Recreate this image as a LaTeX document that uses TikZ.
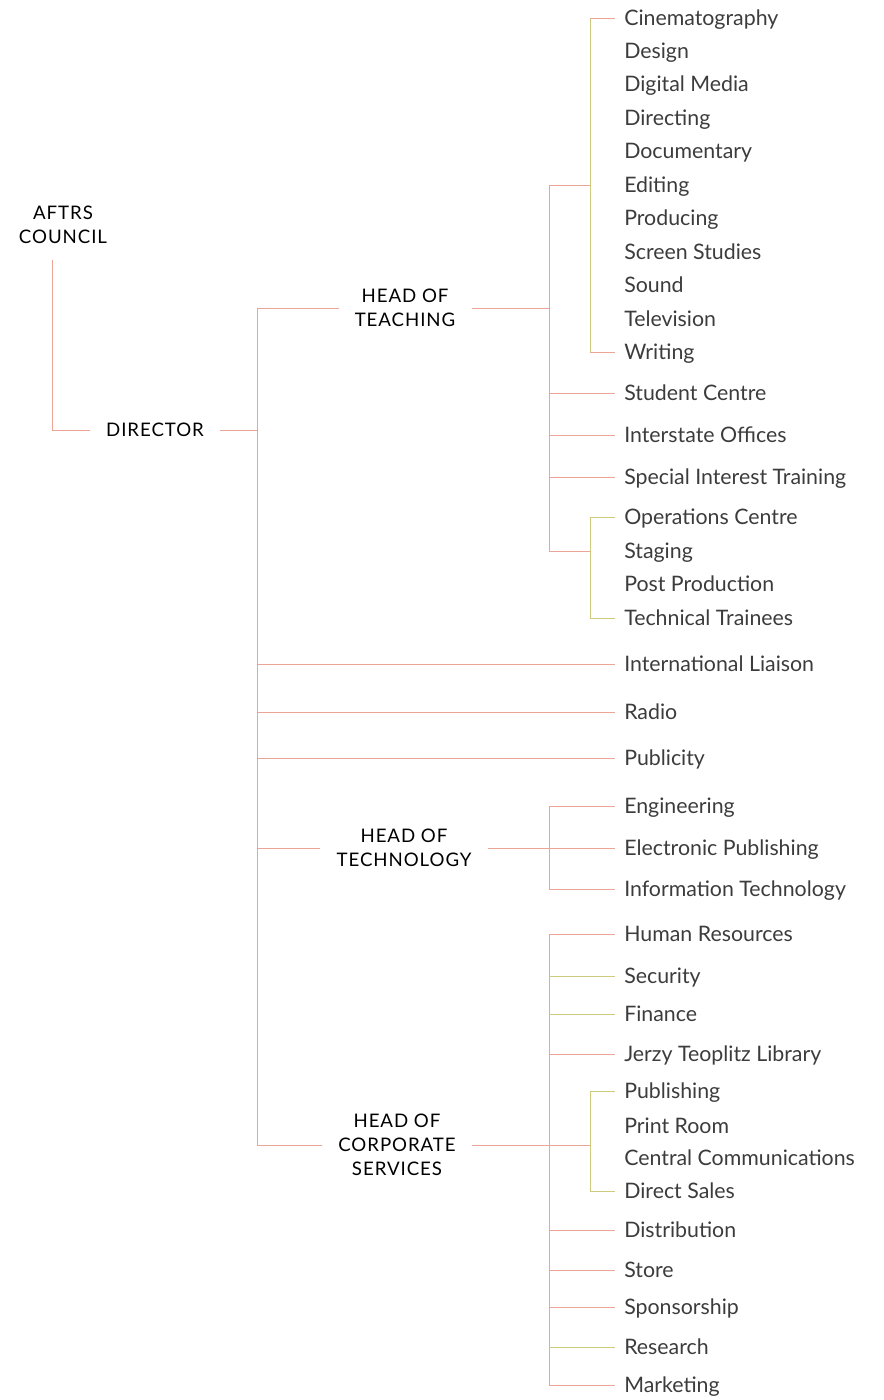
\documentclass[tikz,border=0pt]{standalone}
\usepackage{fontspec}
\setmainfont{Lato}
\newfontfamily\capsfont[LetterSpace=5]{Lato}
\usetikzlibrary{positioning}
\definecolor{salmon}{HTML}{EBA596}
\definecolor{olive}{HTML}{CDCC7E}
\definecolor{ink}{HTML}{3C3C3C}
\tikzset{leaf/.style={anchor=west, inner xsep=6.75pt, inner ysep=0pt, text height=11pt, text depth=0pt, text=ink, font=\fontsize{16}{18}\selectfont},
	head/.style={align=center, inner xsep=12pt, inner ysep=0pt, text=black, font=\capsfont\fontsize{14}{18}\selectfont},
	link/.style={draw=salmon, line width=0.6pt},
	sublink/.style={draw=olive, line width=0.6pt}}

\begin{document}
\begin{tikzpicture}[x=0.75pt, y=-0.75pt]
	\useasboundingbox (0,0) rectangle (884,1400);
	% heads
	\node[head] (Council) at (63,225) {AFTRS\\COUNCIL};
	\node[head] (Director) at (155,430) {DIRECTOR};
	\node[head] (Teaching) at (405,308) {HEAD OF\\TEACHING};
	\node[head] (Technology) at (404,848) {HEAD OF\\TECHNOLOGY};
	\node[head] (Corporate) at (397,1145) {HEAD OF\\CORPORATE\\SERVICES};
	\coordinate (CouncilFoot) at (52,260);
	\coordinate (Spine) at (257,0);
	\coordinate (Bar) at (549,0);
	\coordinate (SubBar) at (590,0);
	% teaching
	\node[leaf] (Cinematography) at (615,18) {Cinematography};
	\node[leaf] (Design) at (615,51) {Design};
	\node[leaf] (DigitalMedia) at (615,84) {Digital Media};
	\node[leaf] (Directing) at (615,118) {Directing};
	\node[leaf] (Documentary) at (615,151) {Documentary};
	\node[leaf] (Editing) at (615,185) {Editing};
	\node[leaf] (Producing) at (615,218) {Producing};
	\node[leaf] (ScreenStudies) at (615,252) {Screen Studies};
	\node[leaf] (Sound) at (615,285) {Sound};
	\node[leaf] (Television) at (615,319) {Television};
	\node[leaf] (Writing) at (615,352) {Writing};
	\node[leaf] (StudentCentre) at (615,393) {Student Centre};
	\node[leaf] (Interstate) at (615,435) {Interstate Offices};
	\node[leaf] (SpecialInterest) at (615,477) {Special Interest Training};
	\node[leaf] (Operations) at (615,517) {Operations Centre};
	\node[leaf] (Staging) at (615,551) {Staging};
	\node[leaf] (PostProduction) at (615,584) {Post Production};
	\node[leaf] (Trainees) at (615,618) {Technical Trainees};
	% director
	\node[leaf] (Liaison) at (615,664) {International Liaison};
	\node[leaf] (Radio) at (615,712) {Radio};
	\node[leaf] (Publicity) at (615,758) {Publicity};
	% technology
	\node[leaf] (Engineering) at (615,806) {Engineering};
	\node[leaf] (Electronic) at (615,848) {Electronic Publishing};
	\node[leaf] (InfoTech) at (615,889) {Information Technology};
	% corporate services
	\node[leaf] (HumanResources) at (615,934) {Human Resources};
	\node[leaf] (Security) at (615,976) {Security};
	\node[leaf] (Finance) at (615,1014) {Finance};
	\node[leaf] (Library) at (615,1054) {Jerzy Teoplitz Library};
	\node[leaf] (Publishing) at (615,1091) {Publishing};
	\node[leaf] (PrintRoom) at (615,1126) {Print Room};
	\node[leaf] (CentralComms) at (615,1158) {Central Communications};
	\node[leaf] (DirectSales) at (615,1191) {Direct Sales};
	\node[leaf] (Distribution) at (615,1230) {Distribution};
	\node[leaf] (Store) at (615,1270) {Store};
	\node[leaf] (Sponsorship) at (615,1307) {Sponsorship};
	\node[leaf] (Research) at (615,1347) {Research};
	\node[leaf] (Marketing) at (615,1385) {Marketing};
	% connectors
	\draw[link] (CouncilFoot) |- (Director.west);
	\draw[link] (Director.east) -- (Director.east -| Spine);
	\draw[link] (Teaching.west) -| (Spine |- Corporate.west) -- (Corporate.west);
	\draw[link] (Spine |- Technology.west) -- (Technology.west);
	\draw[link] (Spine |- Liaison.west) -- (Liaison.west);
	\draw[link] (Spine |- Radio.west) -- (Radio.west);
	\draw[link] (Spine |- Publicity.west) -- (Publicity.west);
	% teaching bar
	\draw[link] (Teaching.east) -- (Bar |- Teaching.east);
	\draw[link] (SubBar |- Editing.west) -| (Bar |- Staging.west) -- (SubBar |- Staging.west);
	\draw[link] (Bar |- StudentCentre.west) -- (StudentCentre.west);
	\draw[link] (Bar |- Interstate.west) -- (Interstate.west);
	\draw[link] (Bar |- SpecialInterest.west) -- (SpecialInterest.west);
	\draw[sublink] (SubBar |- Cinematography.west) -- (SubBar |- Writing.west);
	\draw[link] (SubBar |- Cinematography.west) -- (Cinematography.west);
	\draw[link] (SubBar |- Writing.west) -- (Writing.west);
	\draw[sublink] (Operations.west) -| (SubBar |- Trainees.west) -- (Trainees.west);
	% technology bar
	\draw[link] (Technology.east) -- (Electronic.west);
	\draw[link] (Engineering.west) -| (Bar |- InfoTech.west) -- (InfoTech.west);
	% corporate bar
	\draw[link] (Corporate.east) -- (SubBar |- Corporate.east);
	\draw[link] (HumanResources.west) -| (Bar |- Marketing.west) -- (Marketing.west);
	\draw[sublink] (Bar |- Security.west) -- (Security.west);
	\draw[sublink] (Bar |- Finance.west) -- (Finance.west);
	\draw[link] (Bar |- Library.west) -- (Library.west);
	\draw[link] (Bar |- Distribution.west) -- (Distribution.west);
	\draw[link] (Bar |- Store.west) -- (Store.west);
	\draw[link] (Bar |- Sponsorship.west) -- (Sponsorship.west);
	\draw[sublink] (Bar |- Research.west) -- (Research.west);
	\draw[sublink] (Publishing.west) -| (SubBar |- DirectSales.west) -- (DirectSales.west);
\end{tikzpicture}
\end{document}
